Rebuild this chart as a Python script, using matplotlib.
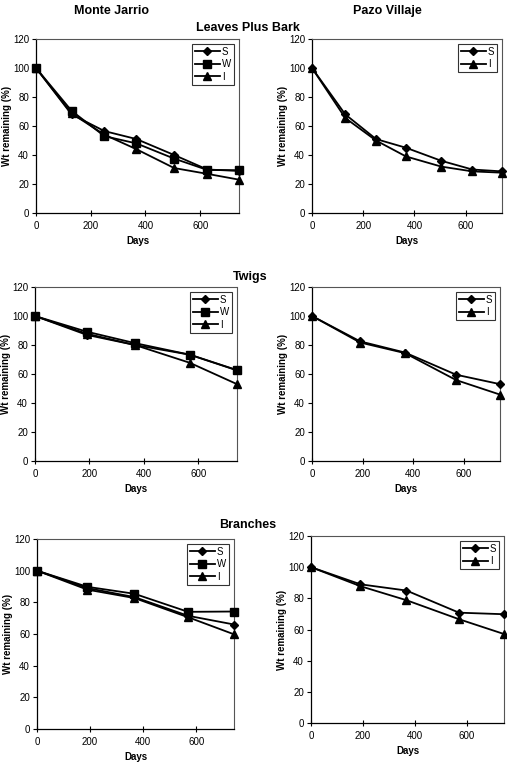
import matplotlib
matplotlib.use('Agg')
import matplotlib.pyplot as plt

plt.rcParams['font.family'] = ['Liberation Sans', 'DejaVu Sans']

# sampling days
days_leaves = [0, 130, 250, 367, 505, 626, 742]
days_wood = [0, 190, 367, 569, 742]

# Monte Jarrio (S, W, I) and Pazo Villaje (S, I)
mj_leaves_s = [100, 68, 56.5, 51, 40, 30, 29]
mj_leaves_w = [100, 70.5, 53, 48, 37.5, 29.7, 29.5]
mj_leaves_i = [100, 68.7, 54, 44, 31, 27, 23]
pv_leaves_s = [100, 68, 51, 45, 36, 30, 28.7]
pv_leaves_i = [100, 65.5, 50, 39, 32, 28.7, 27.8]

mj_twigs_s = [100, 87, 80, 73.3, 62.5]
mj_twigs_w = [100, 89.2, 81.3, 73.3, 62.7]
mj_twigs_i = [100, 87.8, 80, 67.7, 53]
pv_twigs_s = [100, 82.5, 74.8, 59.5, 53]
pv_twigs_i = [100, 81.7, 74.4, 55.8, 45.8]

mj_branch_s = [100, 89, 83.3, 71.5, 66]
mj_branch_w = [100, 89.8, 85.4, 74, 74.2]
mj_branch_i = [100, 88, 82.7, 70.6, 59.8]
pv_branch_s = [100, 89, 85, 70.8, 69.8]
pv_branch_i = [100, 87.8, 78.8, 66.6, 57.1]

W, H = 507, 767
fig = plt.figure(figsize=(W / 100, H / 100), dpi=100)


def make_ax(left, right, top, bottom):
    return fig.add_axes([left / W, 1 - bottom / H, (right - left) / W, (bottom - top) / H])


markers = {'S': ('D', 4.2), 'W': ('s', 5.5), 'I': ('^', 5.5)}


def panel(ax, days, series):
    for lab, vals in series:
        m, ms = markers[lab]
        ax.plot(days, vals, color='black', lw=1.3, marker=m, ms=ms,
                mfc='black', mec='black', label=lab, clip_on=False, zorder=3)
    ax.set_xlim(0, 742)
    ax.set_ylim(0, 120)
    ax.set_xticks([0, 200, 400, 600])
    ax.set_yticks(range(0, 121, 20))
    ax.tick_params(axis='x', direction='inout', length=5, width=0.8, labelsize=7, pad=3)
    ax.tick_params(axis='y', direction='out', length=3, width=0.8, labelsize=7, pad=2)
    for s in ['top', 'right']:
        ax.spines[s].set_linestyle((0, (1, 1)))
        ax.spines[s].set_color('#555555')
        ax.spines[s].set_linewidth(0.8)
    for s in ['left', 'bottom']:
        ax.spines[s].set_color('black')
        ax.spines[s].set_linewidth(0.9)
    ax.set_xlabel('Days', fontsize=7, fontweight='bold', labelpad=4)
    ax.set_ylabel('Wt remaining (%)', fontsize=7, fontweight='bold', labelpad=1)
    leg = ax.legend(loc='upper right', fontsize=7, frameon=True, fancybox=False,
                    handlelength=2.6, handletextpad=0.2, borderpad=0.3,
                    labelspacing=0.25, borderaxespad=0.5)
    leg.get_frame().set_edgecolor('black')
    leg.get_frame().set_linewidth(0.8)


ax1 = make_ax(36, 239, 39, 213)
panel(ax1, days_leaves, [('S', mj_leaves_s), ('W', mj_leaves_w), ('I', mj_leaves_i)])
ax2 = make_ax(312, 502, 39, 213)
panel(ax2, days_leaves, [('S', pv_leaves_s), ('I', pv_leaves_i)])

ax3 = make_ax(35, 237, 287, 461)
panel(ax3, days_wood, [('S', mj_twigs_s), ('W', mj_twigs_w), ('I', mj_twigs_i)])
ax4 = make_ax(312, 500, 287, 461)
panel(ax4, days_wood, [('S', pv_twigs_s), ('I', pv_twigs_i)])

ax5 = make_ax(37, 234, 539, 729)
panel(ax5, days_wood, [('S', mj_branch_s), ('W', mj_branch_w), ('I', mj_branch_i)])
ax6 = make_ax(311, 504, 536, 723)
panel(ax6, days_wood, [('S', pv_branch_s), ('I', pv_branch_i)])

fig.text(111 / W, 1 - 11 / H, 'Monte Jarrio', ha='center', va='center', fontsize=9, fontweight='bold')
fig.text(387 / W, 1 - 11 / H, 'Pazo Villaje', ha='center', va='center', fontsize=9, fontweight='bold')
fig.text(248 / W, 1 - 28 / H, 'Leaves Plus Bark', ha='center', va='center', fontsize=9, fontweight='bold')
fig.text(250 / W, 1 - 277 / H, 'Twigs', ha='center', va='center', fontsize=9, fontweight='bold')
fig.text(248 / W, 1 - 525 / H, 'Branches', ha='center', va='center', fontsize=9, fontweight='bold')

fig.savefig('out.png', dpi=100)
